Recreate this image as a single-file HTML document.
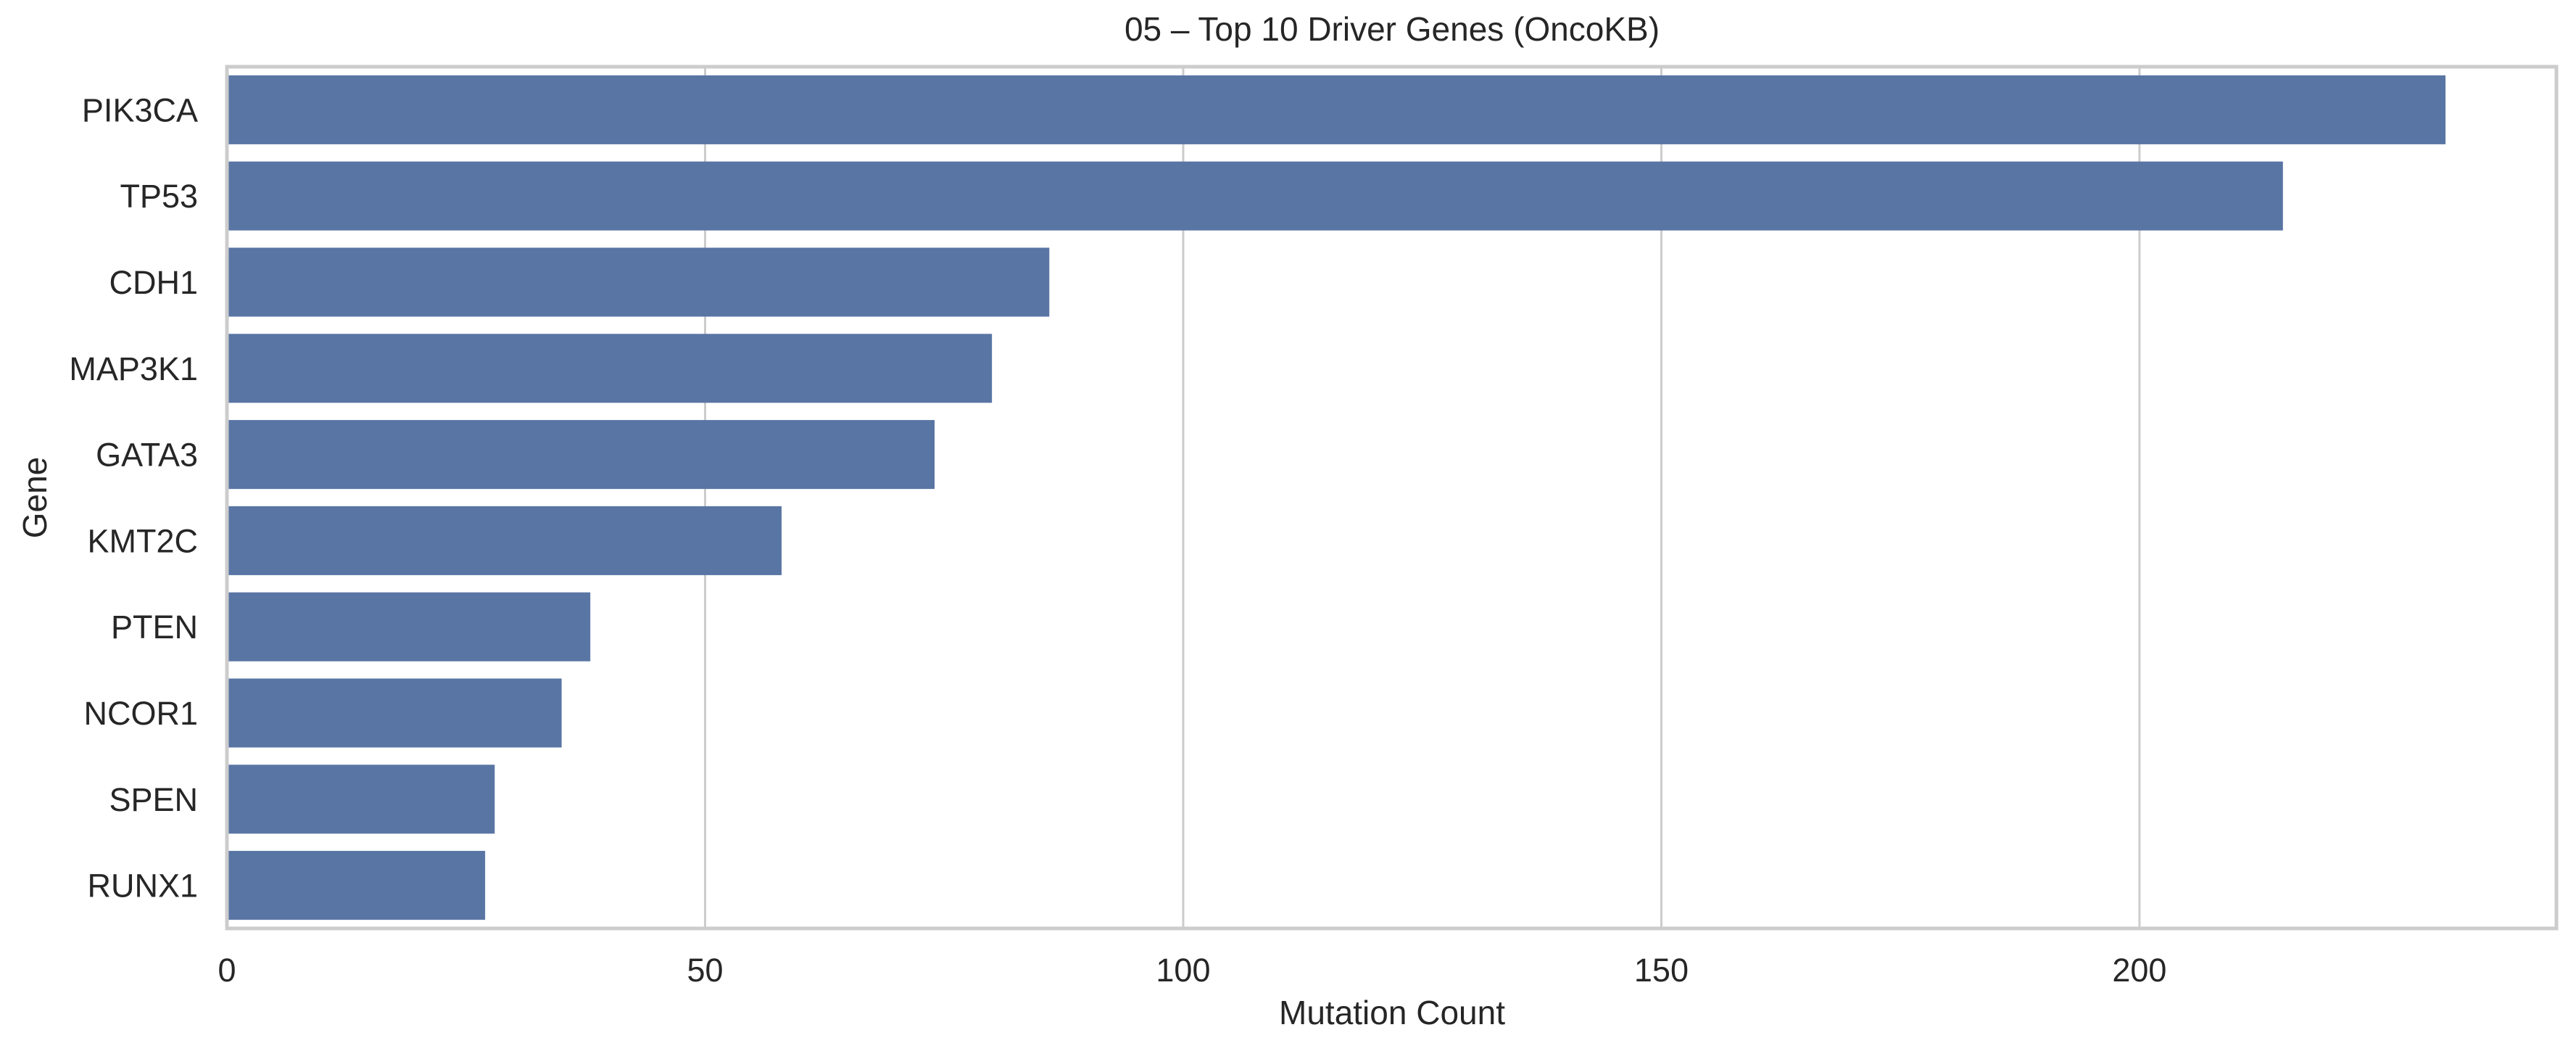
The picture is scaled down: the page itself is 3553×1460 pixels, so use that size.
<!DOCTYPE html>
<html><head><meta charset="utf-8"><style>
html,body{margin:0;padding:0;background:#fff;}
svg text{font-family:"Liberation Sans",Arial,sans-serif;fill:#262626;}
</style></head><body>
<svg id="chart" width="3553" height="1455" xmlns="http://www.w3.org/2000/svg">
<rect width="3553" height="1455" fill="#fff"/>
<g id="grid"></g><g id="bars"></g><g id="axes"></g>
<text x="1920" y="56" font-size="46" text-anchor="middle">05 – Top 10 Driver Genes (OncoKB)</text>
<text x="1920" y="1412" font-size="46" text-anchor="middle">Mutation Count</text>
<text transform="translate(64,686) rotate(-90)" font-size="46" text-anchor="middle">Gene</text>
</svg>
<script>
const genes = ["PIK3CA","TP53","CDH1","MAP3K1","GATA3","KMT2C","PTEN","NCOR1","SPEN","RUNX1"];
const counts = [232,215,86,80,74,58,38,35,28,27];
const xTicks = [0,50,100,150,200];

const NS="http://www.w3.org/2000/svg";
const L=313,R=3526,T=92,B=1280;
const xMax=Math.max(...counts)*1.05;
function xs(v){return L+(v/xMax)*(R-L);}
const step=(B-T)/genes.length;
function ys(i){return T+step*(i+0.5);}
function mk(tag,attrs,parent){const e=document.createElementNS(NS,tag);for(const k in attrs)e.setAttribute(k,attrs[k]);parent.appendChild(e);return e;}
const grid=document.getElementById('grid'),bars=document.getElementById('bars'),axes=document.getElementById('axes');
xTicks.forEach(t=>{
  const x=xs(t);
  const g=mk('line',{x1:x,x2:x,y1:T,y2:B,stroke:'#cccccc','stroke-width':3},grid);
  
  
  const tx=mk('text',{x:x,y:1353,'font-size':45,'text-anchor':'middle'},axes);
  tx.textContent=t;
  
  
});
genes.forEach((g,i)=>{
  const yc=ys(i),h=step*0.8;
  const b=mk('rect',{x:xs(0),y:yc-h/2,width:xs(counts[i])-xs(0),height:h,fill:'#5975a4'},bars);
  
  
  const t=mk('text',{x:273,y:yc+16,'font-size':45,'text-anchor':'end'},axes);
  t.textContent=g;
  
  
});
const f=mk('rect',{x:L,y:T,width:R-L,height:B-T,fill:'none',stroke:'#cccccc','stroke-width':5},axes);


</script>
</body></html>
